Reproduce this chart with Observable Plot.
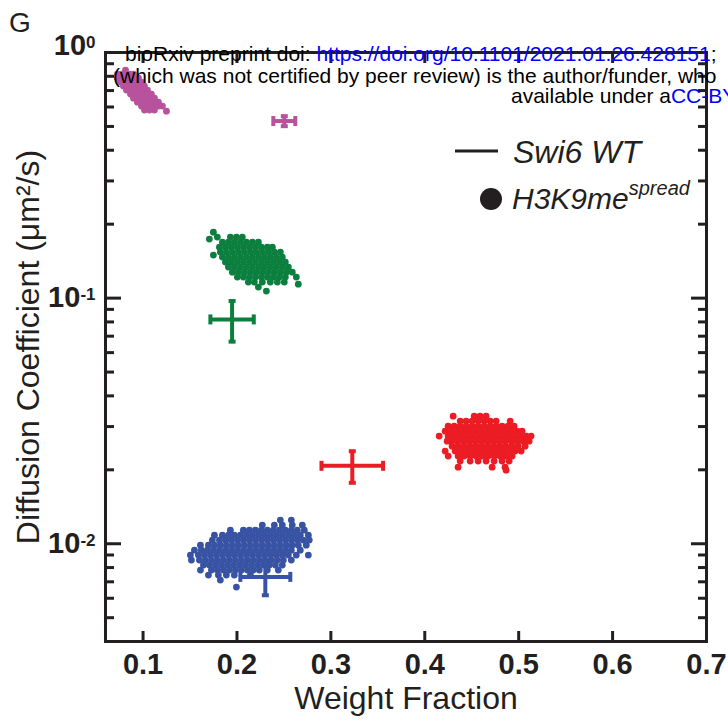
<!DOCTYPE html>
<html><head><meta charset="utf-8">
<script src="https://cdn.jsdelivr.net/npm/d3@7"></script>
<script src="https://cdn.jsdelivr.net/npm/@observablehq/plot@0.6"></script>
<style>html,body{margin:0;padding:0;background:#fff;overflow:hidden}</style>
</head><body><div id="chart"></div><script>
// ---------- data ----------
const groupNames = ["pink set", "green set", "red set", "blue set"];
const groupColors = ["#b8529d", "#0c7f3f", "#ec1c24", "#3853a3"];

// Swi6 WT: weight fraction ± err, diffusion coefficient ± err
const wtX    = [0.2504, 0.1948, 0.3228, 0.2302];
const wtXErr = [0.0117, 0.0231, 0.0328, 0.0266];
const wtY    = [0.526, 0.0819, 0.02076, 0.00733];
const wtYErr = [0.0247, 0.0154, 0.00305, 0.00116];

// H3K9me-spread clouds: rows of [D, [weight fractions...]]
const spreadPink = [
  [0.848, [0.0813]],
  [0.817, [0.0728, 0.0770, 0.0813, 0.0855, 0.0898]],
  [0.787, [0.0728, 0.0770, 0.0813, 0.0855, 0.0898, 0.0951]],
  [0.758, [0.0760, 0.0802, 0.0845, 0.0887, 0.0930, 0.0983]],
  [0.730, [0.0791, 0.0834, 0.0877, 0.0919, 0.0962, 0.1015]],
  [0.703, [0.0823, 0.0866, 0.0909, 0.0951, 0.0994, 0.1047]],
  [0.677, [0.0866, 0.0909, 0.0951, 0.0994, 0.1036, 0.1089]],
  [0.652, [0.0898, 0.0940, 0.0983, 0.1026, 0.1068, 0.1121]],
  [0.628, [0.0940, 0.0983, 0.1026, 0.1068, 0.1111, 0.1164]],
  [0.605, [0.0983, 0.1026, 0.1068, 0.1111, 0.1164, 0.1206]],
  [0.583, [0.1015, 0.1068, 0.1121]],
  [0.577, [0.1249]]
];
const spreadGreen = [
  [0.1856, [0.1749]],
  [0.1772, [0.1791, 0.1930, 0.1994, 0.2057]],
  [0.1739, [0.1706]],
  [0.1691, [0.1845, 0.1909, 0.1972, 0.2036, 0.2100, 0.2164, 0.2228]],
  [0.1613, [0.1813, 0.1877, 0.1940, 0.2004, 0.2068, 0.2132, 0.2196, 0.2260, 0.2323, 0.2377]],
  [0.1540, [0.1823, 0.1887, 0.1951, 0.2015, 0.2079, 0.2143, 0.2206, 0.2270, 0.2334, 0.2398, 0.2462]],
  [0.1497, [0.1749]],
  [0.1469, [0.1845, 0.1909, 0.1972, 0.2036, 0.2100, 0.2164, 0.2228, 0.2291, 0.2355, 0.2419, 0.2483]],
  [0.1402, [0.1877, 0.1940, 0.2004, 0.2068, 0.2132, 0.2196, 0.2260, 0.2323, 0.2387, 0.2451, 0.2515]],
  [0.1338, [0.1909, 0.1972, 0.2036, 0.2100, 0.2164, 0.2228, 0.2291, 0.2355, 0.2419, 0.2483, 0.2547]],
  [0.1276, [0.1951, 0.2015, 0.2079, 0.2143, 0.2206, 0.2270, 0.2334, 0.2398, 0.2462, 0.2526, 0.2589]],
  [0.1218, [0.2004, 0.2068, 0.2132, 0.2196, 0.2260, 0.2323, 0.2387, 0.2451, 0.2515, 0.2632]],
  [0.1162, [0.2121, 0.2185, 0.2270, 0.2355, 0.2430, 0.2504]],
  [0.1140, [0.2653]],
  [0.1109, [0.2228]],
  [0.1068, [0.2313]]
];
const spreadRed = [
  [0.03308, [0.4302, 0.4526, 0.4589, 0.4653]],
  [0.03157, [0.4377, 0.4440, 0.4504, 0.4568, 0.4632, 0.4696, 0.4760, 0.4909]],
  [0.03012, [0.4249, 0.4313, 0.4377, 0.4440, 0.4504, 0.4568, 0.4632, 0.4696, 0.4760, 0.4823, 0.4887, 0.4951]],
  [0.02874, [0.4217, 0.4281, 0.4345, 0.4409, 0.4472, 0.4536, 0.4600, 0.4664, 0.4728, 0.4791, 0.4855, 0.4919, 0.4983, 0.5036]],
  [0.02743, [0.4153, 0.4249, 0.4313, 0.4377, 0.4440, 0.4504, 0.4568, 0.4632, 0.4696, 0.4760, 0.4823, 0.4887, 0.4951, 0.5015, 0.5079, 0.5132]],
  [0.02617, [0.4238, 0.4281, 0.4345, 0.4409, 0.4472, 0.4536, 0.4600, 0.4664, 0.4728, 0.4791, 0.4855, 0.4919, 0.4983, 0.5047, 0.5111]],
  [0.02497, [0.4291, 0.4355, 0.4419, 0.4483, 0.4547, 0.4611, 0.4674, 0.4738, 0.4802, 0.4866, 0.4930, 0.4994, 0.5068]],
  [0.02383, [0.4217, 0.4323, 0.4387, 0.4451, 0.4515, 0.4579, 0.4643, 0.4706, 0.4770, 0.4834, 0.4898, 0.4962, 0.5026]],
  [0.02274, [0.4249, 0.4355, 0.4419, 0.4483, 0.4547, 0.4611, 0.4674, 0.4738, 0.4802, 0.4866, 0.4930]],
  [0.02170, [0.4377, 0.4483, 0.4568, 0.4653, 0.4738, 0.4823, 0.4898]],
  [0.02051, [0.4355, 0.4717, 0.4855]],
  [0.01994, [0.4866]]
];
const spreadBlue = [
  [0.01248, [0.2462, 0.2579]],
  [0.01191, [0.2270, 0.2398, 0.2483, 0.2589, 0.2696]],
  [0.01136, [0.1930, 0.2068, 0.2132, 0.2196, 0.2260, 0.2323, 0.2387, 0.2451, 0.2515, 0.2579, 0.2643, 0.2717]],
  [0.01084, [0.1760, 0.1845, 0.1909, 0.1972, 0.2036, 0.2100, 0.2164, 0.2228, 0.2291, 0.2355, 0.2419, 0.2483, 0.2547, 0.2611, 0.2674, 0.2760]],
  [0.01035, [0.1738, 0.1813, 0.1877, 0.1940, 0.2004, 0.2068, 0.2132, 0.2196, 0.2260, 0.2323, 0.2387, 0.2451, 0.2515, 0.2579, 0.2643, 0.2706, 0.2770]],
  [0.009872, [0.1611, 0.1696, 0.1760, 0.1823, 0.1887, 0.1951, 0.2015, 0.2079, 0.2143, 0.2206, 0.2270, 0.2334, 0.2398, 0.2462, 0.2526, 0.2589, 0.2653, 0.2738]],
  [0.009420, [0.1547, 0.1621, 0.1685, 0.1749, 0.1813, 0.1877, 0.1940, 0.2004, 0.2068, 0.2132, 0.2196, 0.2260, 0.2323, 0.2387, 0.2451, 0.2515, 0.2579, 0.2674]],
  [0.008989, [0.1504, 0.1589, 0.1653, 0.1717, 0.1781, 0.1845, 0.1909, 0.1972, 0.2036, 0.2100, 0.2164, 0.2228, 0.2291, 0.2355, 0.2419, 0.2483, 0.2547, 0.2632, 0.2760]],
  [0.008578, [0.1515, 0.1600, 0.1664, 0.1728, 0.1791, 0.1855, 0.1919, 0.1983, 0.2047, 0.2111, 0.2174, 0.2238, 0.2302, 0.2366, 0.2430, 0.2494, 0.2579]],
  [0.008185, [0.1643, 0.1706, 0.1770, 0.1834, 0.1898, 0.1962, 0.2026, 0.2089, 0.2153, 0.2217, 0.2281, 0.2345, 0.2409, 0.2483]],
  [0.007810, [0.1611, 0.1728, 0.1791, 0.1855, 0.1919, 0.1983, 0.2047, 0.2111, 0.2174, 0.2238, 0.2323, 0.2440]],
  [0.007453, [0.1696, 0.1802, 0.1887, 0.1972, 0.2143]],
  [0.007112, [0.1823]],
  [0.006660, [0.1994]]
];

// axis ticks
const xTicks = [0.1, 0.2, 0.3, 0.4, 0.5, 0.6, 0.7];
const yMajor = [1, 0.1, 0.01];
const yMinor = [0.004, 0.005, 0.006, 0.007, 0.008, 0.009,
                0.02, 0.03, 0.04, 0.05, 0.06, 0.07, 0.08, 0.09,
                0.2, 0.3, 0.4, 0.5, 0.6, 0.7, 0.8, 0.9];

// ---------- build ----------
const ink = "#231f20";
const toPoints = (rows, group) => rows.flatMap(([y, xs]) => xs.map(x => ({x, y, group})));
const spread = [
  ...toPoints(spreadPink, groupNames[0]),
  ...toPoints(spreadGreen, groupNames[1]),
  ...toPoints(spreadRed, groupNames[2]),
  ...toPoints(spreadBlue, groupNames[3])
];
const wt = groupNames.map((g, i) => ({group: g, x: wtX[i], xerr: wtXErr[i], y: wtY[i], yerr: wtYErr[i]}));

const capTall = {draw(ctx) { ctx.rect(-2, -5, 4, 10); }};
const capWide = {draw(ctx) { ctx.rect(-3.5, -2, 7, 4); }};

const tickOpts = {stroke: ink, strokeWidth: 3, fill: "none", label: null};

const chart = Plot.plot({
  width: 728,
  height: 724,
  marginTop: 52, marginRight: 22, marginBottom: 83, marginLeft: 105,
  x: {domain: [0.06, 0.7]},
  y: {type: "log", domain: [0.004, 1]},
  color: {type: "ordinal", domain: groupNames, range: groupColors},
  style: {fontFamily: "'Liberation Sans', Arial, sans-serif", background: "white", overflow: "hidden", color: ink},
  marks: [
    Plot.dot(spread, {x: "x", y: "y", r: 3.4, fill: "group", stroke: "none"}),
    Plot.link(wt, {x1: d => d.x - d.xerr, x2: d => d.x + d.xerr, y1: "y", y2: "y", stroke: "group", strokeWidth: 4}),
    Plot.link(wt, {x1: "x", x2: "x", y1: d => d.y - d.yerr, y2: d => d.y + d.yerr, stroke: "group", strokeWidth: 4}),
    Plot.dot(wt, {x: d => d.x - d.xerr, y: "y", symbol: capTall, fill: "group", stroke: "none"}),
    Plot.dot(wt, {x: d => d.x + d.xerr, y: "y", symbol: capTall, fill: "group", stroke: "none"}),
    Plot.dot(wt, {x: "x", y: d => d.y - d.yerr, symbol: capWide, fill: "group", stroke: "none"}),
    Plot.dot(wt, {x: "x", y: d => d.y + d.yerr, symbol: capWide, fill: "group", stroke: "none"}),
    Plot.frame({stroke: ink, strokeWidth: 3}),
    Plot.axisX(xTicks, {anchor: "bottom", tickSize: -10, ...tickOpts}),
    Plot.axisX(xTicks, {anchor: "top", tickSize: -10, ...tickOpts}),
    Plot.axisY(yMajor, {anchor: "left", tickSize: -16, ...tickOpts}),
    Plot.axisY(yMinor, {anchor: "left", tickSize: -9, ...tickOpts}),
    Plot.axisY(yMajor, {anchor: "right", tickSize: -16, ...tickOpts}),
    Plot.axisY(yMinor, {anchor: "right", tickSize: -9, ...tickOpts}),
    Plot.axisX(xTicks, {anchor: "bottom", tickSize: 0, tickPadding: 12, fontSize: 29, fontWeight: "bold",
      fill: ink, label: null, tickFormat: d => d.toFixed(1)}),
    Plot.axisY(yMajor, {anchor: "left", tickSize: 0, tickPadding: 10, fontSize: 29, fontWeight: "bold",
      fill: ink, label: null, tickFormat: d => "10^" + Math.round(Math.log10(d))}),
    Plot.text(["Weight Fraction"], {frameAnchor: "bottom", dy: 57, lineAnchor: "middle", textAnchor: "middle",
      text: d => d, fontSize: 32, fill: ink}),
    Plot.text(["Diffusion Coefficient (μm²/s)"], {frameAnchor: "left", dx: -77, rotate: -90, lineAnchor: "middle",
      textAnchor: "middle", text: d => d, fontSize: 32, fill: ink})
  ]
});
document.getElementById("chart").appendChild(chart);

const svg = d3.select(chart);

// superscripts on the y tick labels
svg.selectAll('g[aria-label="y-axis tick label"] text').each(function () {
  const [base, exp] = this.textContent.split("^");
  const el = d3.select(this).text(null);
  el.append("tspan").text(base);
  el.append("tspan").attr("dy", "-0.42em").attr("font-size", 17).text(exp);
  if (exp === "0") el.attr("y", "0.08em");
});

// panel letter
svg.append("text").attr("x", 9).attr("y", 32).attr("text-anchor", "start")
  .attr("font-size", 28).attr("fill", ink).text("G");

// legend
const lg = svg.append("g").attr("fill", ink).attr("font-style", "italic").attr("text-anchor", "start");
lg.append("line").attr("x1", 455).attr("x2", 498).attr("y1", 151).attr("y2", 151)
  .attr("stroke", ink).attr("stroke-width", 3);
lg.append("text").attr("x", 513).attr("y", 163).attr("font-size", 32).text("Swi6 WT");
lg.append("circle").attr("cx", 491).attr("cy", 199).attr("r", 11);
const t2 = lg.append("text").attr("x", 512).attr("y", 209).attr("font-size", 30);
t2.append("tspan").text("H3K9me");
t2.append("tspan").attr("font-size", 20).attr("dy", -14).text("spread");

// bioRxiv watermark
const wm = svg.append("g").attr("font-size", 21).attr("fill", "#000").attr("text-anchor", "start");
const w1 = wm.append("text").attr("x", 125).attr("y", 61);
w1.append("tspan").text("bioRxiv preprint doi: ");
w1.append("tspan").attr("fill", "#0000ff").text("https://doi.org/10.1101/2021.01.26.428151");
w1.append("tspan").text(";");
wm.append("text").attr("x", 113).attr("y", 83)
  .text("(which was not certified by peer review) is the author/funder, who");
const w3 = wm.append("text").attr("x", 511).attr("y", 103);
w3.append("tspan").text("available under a");
w3.append("tspan").attr("fill", "#0000ff").text("CC-BY");
</script></body></html>
